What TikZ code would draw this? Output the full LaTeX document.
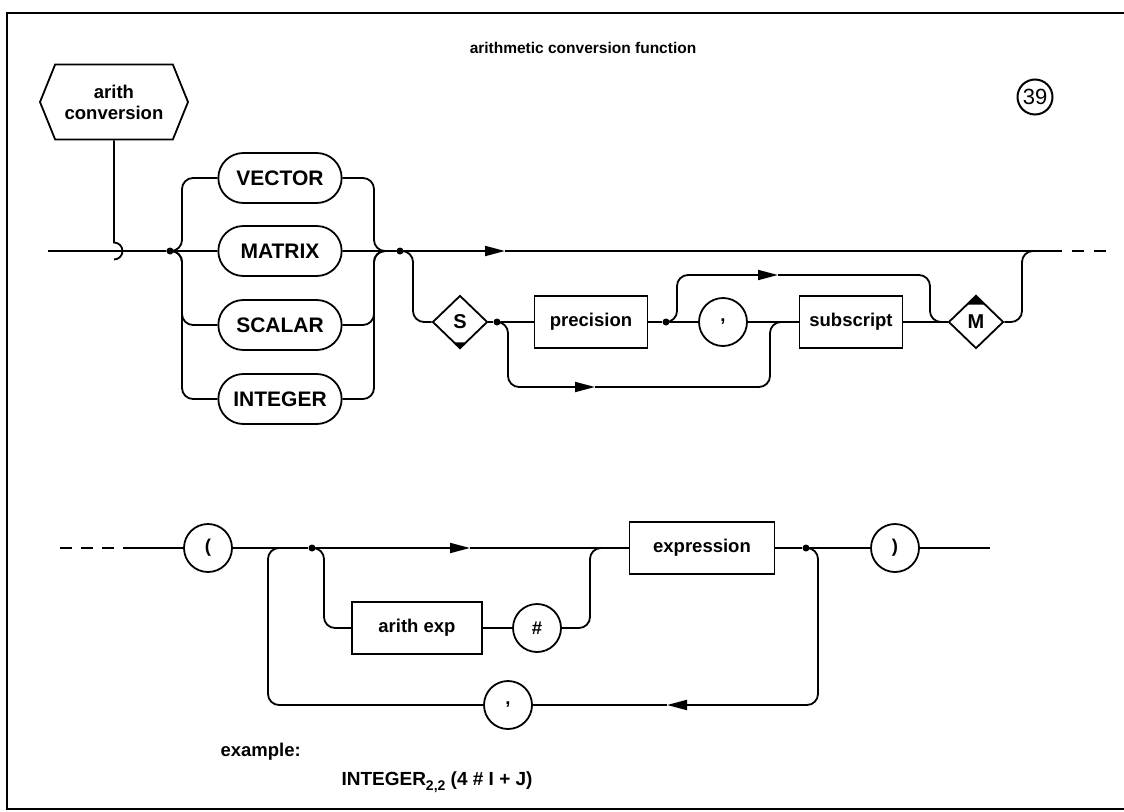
\documentclass[tikz,border=0pt]{standalone}
\usepackage{fontspec}
\setmainfont{Liberation Sans}
\usetikzlibrary{arrows.meta, shapes.geometric, shapes.misc, shapes.symbols}

\begin{document}
\begin{tikzpicture}[
        x=1pt, y=-1pt,
        every node/.style={font=\fontsize{18.5}{21}\selectfont\bfseries},
        line/.style={line width=1.8pt},
        keyword/.style={line, draw, rounded rectangle, minimum width=130pt, minimum height=50pt, font=\fontsize{21}{24}\selectfont\bfseries},
        nonterm/.style={line, draw, rectangle, minimum height=52pt},
        symbol/.style={line, draw, circle, minimum size=48pt, inner sep=0pt},
        switch/.style={line, draw, diamond, minimum width=55pt, minimum height=53pt, inner sep=0pt, font=\fontsize{20}{24}\selectfont\bfseries},
        entry/.style={line, draw, signal, signal to=east and west, signal pointer angle=136, minimum width=148pt, minimum height=75pt, align=center, inner sep=1pt},
        dot/.style={circle, fill, inner sep=0pt, minimum size=7pt},
        flow/.style={line, rounded corners=11pt},
        arrowstyle/.style={line, -{Triangle[length=20pt, width=10pt]}}
    ]
    \useasboundingbox (0,0) rectangle (1124,811);
    \draw[line width=2pt] (1124,13) -- (7,13) -- (7,809) -- (1124,809);

    \node[font=\fontsize{15.5}{18}\selectfont\bfseries] (title) at (583,48) {arithmetic conversion function};
    \node[draw, circle, line width=2pt, minimum size=35pt, inner sep=0pt, font=\fontsize{22}{26}\selectfont] (page) at (1035,97) {39};

    % first line
    \node[entry] (conv) at (114,102) {arith\\conversion};
    \coordinate (in1) at (48,251);
    \coordinate (hook) at (114,242.5);
    \node[dot] (d1) at (170,251) {};
    \node[keyword] (vec) at (280,178) {VECTOR};
    \node[keyword] (mat) at (280,251) {MATRIX};
    \node[keyword] (sca) at (280,325) {SCALAR};
    \node[keyword] (int) at (280,399) {INTEGER};
    \node[dot] (d2) at (400,251) {};
    \node[switch] (s) at (460,322) {S};
    \node[dot] (d3) at (497,322) {};
    \node[nonterm, minimum width=113pt] (prec) at (591,322) {precision};
    \node[dot] (d4) at (666,322) {};
    \node[symbol] (c1) at (723,322) {,};
    \node[nonterm, minimum width=103pt, inner xsep=1pt] (sub) at (851,322) {subscript};
    \node[switch] (m) at (976,322) {M};
    \coordinate (a1) at (505,251);
    \coordinate (a2) at (595,387);
    \coordinate (a3) at (778,275);
    \coordinate (out1) at (1062,251);

    \draw[line] (conv.south) -- (hook) arc[start angle=90, end angle=-90, radius=8.5pt];
    \draw[line] (in1) -- (d1) -- (mat) -- (d2);
    \draw[arrowstyle] (d2) -- (a1);
    \draw[line] (a1) -- (out1);
    \draw[line, dash pattern=on 12pt off 10pt] (1072,251) -- (1106,251);
    \draw[flow] (d1) -| (182,178) -- (vec);
    \draw[flow] (d1) -| (182,325) -- (sca);
    \draw[flow] (d1) -| (182,399) -- (int);
    \draw[flow] (vec) -| (374,251) -- (d2);
    \draw[flow] (sca) -| (374,251) -- (d2);
    \draw[flow] (int) -| (374,251) -- (d2);
    \draw[flow] (d2) -| (413,322) -- (s);
    \draw[line] (s) -- (d3) -- (prec) -- (d4) -- (c1) -- (sub) -- (m);
    \fill (s.south) -- ++(-7,-7) -- ++(14,0) -- cycle;
    \fill (m.north) -- ++(-10,10) -- ++(20,0) -- cycle;
    \draw[arrowstyle, rounded corners=11pt] (d3) -| (508,387) -- (a2);
    \draw[flow] (a2) -| (770,322) -- (sub);
    \draw[arrowstyle, rounded corners=11pt] (d4) -| (677,275) -- (a3);
    \draw[flow] (a3) -| (930,322) -- (m);
    \draw[flow] (m) -| (1022,251) -- (1040,251);

    % second line
    \coordinate (in2) at (123,548);
    \node[symbol] (lp) at (208,548) {(};
    \node[dot] (d5) at (312,548) {};
    \node[nonterm, minimum width=145pt] (expr) at (702,548) {expression};
    \node[dot] (d6) at (806,548) {};
    \node[symbol] (rp) at (895,548) {)};
    \node[nonterm, minimum width=130pt] (ae) at (417,628) {arith exp};
    \node[symbol] (hash) at (537,628) {\#};
    \node[symbol] (c2) at (508,705) {,};
    \coordinate (a4) at (470,548);
    \coordinate (a5) at (667,705);
    \coordinate (out2) at (990,548);

    \draw[line, dash pattern=on 12pt off 9pt] (60,548) -- (114,548);
    \draw[line] (in2) -- (lp) -- (d5);
    \draw[arrowstyle] (d5) -- (a4);
    \draw[line] (a4) -- (expr) -- (d6) -- (rp) -- (out2);
    \draw[flow] (d5) -| (324,628) -- (ae);
    \draw[line] (ae) -- (hash);
    \draw[flow] (hash) -| (590,548) -- (expr);
    \draw[arrowstyle, rounded corners=11pt] (d6) -| (818,705) -- (a5);
    \draw[line] (a5) -- (c2);
    \draw[flow] (c2) -| (268,548) -- (285,548);

    \node[anchor=west] (ex) at (217,752) {example:};
    \node[anchor=west, font=\fontsize{19}{22}\selectfont\bfseries] (exline) at (338,782) {INTEGER\raisebox{-5pt}{\fontsize{14}{14}\selectfont 2,2} (4 \# I + J)};
\end{tikzpicture}
\end{document}
